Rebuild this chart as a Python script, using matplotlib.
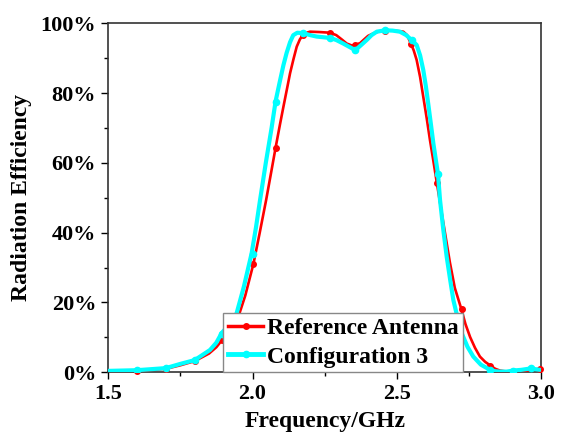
import matplotlib
matplotlib.use("Agg")
import matplotlib.pyplot as plt
from matplotlib.lines import Line2D
from matplotlib.ticker import MultipleLocator, FuncFormatter

# === data ===
ref_freq = [1.50, 1.60, 1.70, 1.75, 1.80, 1.85, 1.875, 1.899, 1.925, 1.951, 1.975,
            2.003, 2.025, 2.047, 2.065, 2.080, 2.095, 2.107, 2.120, 2.130, 2.142,
            2.153, 2.164, 2.174, 2.187, 2.199, 2.230, 2.269, 2.290, 2.310, 2.326,
            2.345, 2.356, 2.372, 2.385, 2.400, 2.418, 2.435, 2.459, 2.490, 2.522,
            2.535, 2.548, 2.558, 2.568, 2.580, 2.591, 2.603, 2.614, 2.626, 2.638,
            2.655, 2.668, 2.683, 2.700, 2.722, 2.737, 2.753, 2.770, 2.787, 2.805,
            2.822, 2.840, 2.856, 2.880, 2.900, 2.930, 2.960, 2.996]
ref_eff = [0.3, 0.4, 1.0, 2.0, 3.2, 5.4, 7.2, 9.7, 12.5, 15.9, 22.0,
           31.0, 40.0, 49.3, 57.5, 64.4, 71.0, 76.1, 81.5, 85.7, 89.8,
           93.3, 95.4, 96.6, 97.3, 97.6, 97.5, 97.3, 96.6, 95.3, 94.2,
           93.6, 93.9, 94.3, 95.3, 96.4, 97.1, 97.6, 97.9, 97.9, 97.6,
           96.6, 94.2, 92.2, 89.5, 84.6, 78.9, 72.7, 66.6, 60.5, 54.2,
           45.5, 39.0, 31.5, 24.2, 18.3, 13.8, 10.1, 7.0, 4.5, 3.0,
           2.0, 1.0, 0.5, 0.2, 0.2, 0.3, 0.6, 1.0]

cfg_freq = [1.50, 1.60, 1.70, 1.75, 1.80, 1.853, 1.875, 1.893, 1.920, 1.945, 1.970,
            1.997, 2.012, 2.026, 2.046, 2.066, 2.080, 2.095, 2.107, 2.118, 2.130,
            2.141, 2.155, 2.174, 2.200, 2.222, 2.269, 2.290, 2.314, 2.336, 2.356,
            2.375, 2.395, 2.412, 2.430, 2.459, 2.485, 2.510, 2.532, 2.552, 2.568,
            2.580, 2.591, 2.600, 2.608, 2.617, 2.626, 2.642, 2.649, 2.660, 2.672,
            2.684, 2.695, 2.710, 2.724, 2.744, 2.764, 2.790, 2.822, 2.840, 2.856,
            2.880, 2.902, 2.930, 2.962, 2.995]
cfg_eff = [0.4, 0.6, 1.2, 2.4, 3.5, 6.4, 8.5, 11.2, 13.8, 16.9, 24.5,
           34.1, 41.5, 49.3, 60.0, 70.0, 77.7, 83.5, 88.0, 91.5, 94.6,
           96.6, 97.3, 97.2, 96.6, 96.2, 95.8, 95.2, 94.2, 93.2, 92.3,
           93.7, 95.2, 96.6, 97.6, 98.0, 97.9, 97.6, 96.6, 95.1, 93.8,
           90.8, 86.6, 81.9, 77.0, 71.3, 65.5, 56.7, 49.3, 41.0, 33.1,
           26.5, 20.7, 15.5, 11.2, 7.3, 4.5, 2.2, 0.7, 0.3, 0.2,
           0.2, 0.5, 0.7, 1.1, 0.7]

ref_mark_freq = [1.60, 1.70, 1.80, 1.894, 2.001, 2.081, 2.174, 2.269, 2.356, 2.459,
                 2.548, 2.638, 2.725, 2.823, 2.996]
ref_mark_eff = [0.4, 1.0, 3.2, 9.3, 30.9, 64.3, 96.6, 97.3, 93.9, 97.9,
                94.2, 54.2, 18.0, 1.8, 0.9]
cfg_mark_freq = [1.60, 1.70, 1.80, 1.894, 2.001, 2.081, 2.174, 2.269, 2.356, 2.459,
                 2.552, 2.642, 2.821, 2.902, 2.962]
cfg_mark_eff = [0.6, 1.2, 3.4, 11.0, 33.8, 77.4, 97.2, 95.8, 92.3, 98.0,
                95.1, 56.7, 0.8, 0.5, 1.1]

labels = ["Reference Antenna", "Configuration 3"]
colors = ["#ff0000", "#00ffff"]

plt.rcParams["font.family"] = ["Liberation Serif", "DejaVu Serif"]
plt.rcParams["font.weight"] = "bold"

fig = plt.figure(figsize=(5.67, 4.43), dpi=100)
ax = fig.add_axes([0.1905, 0.1596, 0.7645, 0.7878])

line_kw = dict(solid_joinstyle="round", solid_capstyle="round")
ax.plot(ref_freq, ref_eff, color=colors[0], lw=1.9, zorder=3, **line_kw)
ax.plot(ref_mark_freq, ref_mark_eff, "o", color=colors[0], ms=4, zorder=3, clip_on=False)
ax.plot(cfg_freq, cfg_eff, color=colors[1], lw=3.0, zorder=4, **line_kw)
ax.plot(cfg_mark_freq, cfg_mark_eff, "o", color=colors[1], ms=4.5, zorder=4)

ax.set_xlim(1.5, 3.0)
ax.set_ylim(0, 100)
ax.xaxis.set_major_locator(MultipleLocator(0.5))
ax.xaxis.set_minor_locator(MultipleLocator(0.25))
ax.yaxis.set_major_locator(MultipleLocator(20))
ax.yaxis.set_minor_locator(MultipleLocator(10))
ax.yaxis.set_major_formatter(FuncFormatter(lambda v, p: f"{int(v)}%"))
ax.xaxis.set_major_formatter(FuncFormatter(lambda v, p: f"{v:.1f}"))
ax.tick_params(which="major", length=5, width=1, labelsize=16, direction="out", pad=3.5)
ax.tick_params(which="minor", length=3, width=1, direction="out")
for s in ax.spines.values():
    s.set_linewidth(1.2)
    s.set_color("#333333")

ax.set_xlabel("Frequency/GHz", fontsize=17, fontweight="bold", labelpad=5)
ax.set_ylabel("Radiation Efficiency", fontsize=17, fontweight="bold", labelpad=6)

handles = [
    Line2D([], [], color=colors[0], lw=2.5, marker="o", ms=4),
    Line2D([], [], color=colors[1], lw=3.5, marker="o", ms=4.5),
]
leg = ax.legend(handles, labels, loc="lower left", bbox_to_anchor=(0.266, 0.0),
                prop={"family": "Liberation Serif", "weight": "bold", "size": 17},
                fancybox=False, framealpha=1, edgecolor="#888888",
                handlelength=1.5, handletextpad=0.15, borderpad=0.2,
                labelspacing=0.3, borderaxespad=0)
leg.get_frame().set_linewidth(1.0)
leg.set_zorder(5)

fig.savefig("out.png", dpi=100)
